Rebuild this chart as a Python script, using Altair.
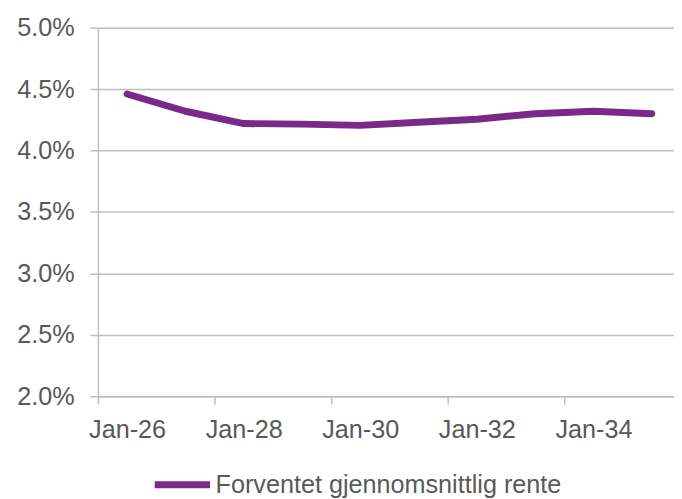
import json
import altair as alt
import pandas as pd

# ---- data ----
categories = ["Jan-26", "Jan-27", "Jan-28", "Jan-29", "Jan-30",
              "Jan-31", "Jan-32", "Jan-33", "Jan-34", "Jan-35"]
rates = [0.0446, 0.0432, 0.0422, 0.04215, 0.04205,
         0.0423, 0.04255, 0.0430, 0.0432, 0.0430]
series_name = "Forventet gjennomsnittlig rente"
tick_labels = ["Jan-26", "Jan-28", "Jan-30", "Jan-32", "Jan-34"]
y_ticks = [0.02, 0.025, 0.03, 0.035, 0.04, 0.045, 0.05]

df = pd.DataFrame({
    "idx": list(range(len(categories))),
    "label": categories,
    "rate": rates,
    "series": [series_name] * len(categories),
})

TEXT = "#595959"
GRID = "#BFBFBF"
PURPLE = "#7A288A"
FONT = "Liberation Sans"
FS = 25.5

x_tick_values = [2 * i - 0.5 for i in range(len(tick_labels))]
label_expr = json.dumps(tick_labels) + "[round((datum.value + 0.5) / 2)]"

chart = (
    alt.Chart(df)
    .mark_line(strokeWidth=7, strokeCap="round", strokeJoin="round")
    .encode(
        x=alt.X(
            "idx:Q",
            scale=alt.Scale(domain=[-0.5, -0.5 + 583 / 59], nice=False, zero=False),
            axis=alt.Axis(
                values=x_tick_values,
                labelExpr=label_expr,
                labelOffset=29.5,
                title=None,
                grid=False,
                domainColor=GRID,
                domainWidth=1.5,
                tickColor=GRID,
                tickWidth=1.5,
                tickSize=8,
                labelPadding=14,
                labelFont=FONT,
                labelFontSize=FS,
                labelColor=TEXT,
                labelOverlap=False,
                labelFlush=False,
                labelBound=False,
            ),
        ),
        y=alt.Y(
            "rate:Q",
            scale=alt.Scale(domain=[0.02, 0.05], nice=False, zero=False),
            axis=alt.Axis(
                values=y_ticks,
                format=".1%",
                title=None,
                grid=True,
                gridColor=GRID,
                gridWidth=1.5,
                domainColor=GRID,
                domainWidth=1.5,
                tickColor=GRID,
                tickWidth=1.5,
                tickSize=8,
                labelPadding=16,
                labelFont=FONT,
                labelFontSize=FS,
                labelColor=TEXT,
            ),
        ),
        color=alt.Color(
            "series:N",
            scale=alt.Scale(domain=[series_name], range=[PURPLE]),
            legend=alt.Legend(
                title=None,
                orient="none",
                legendX=54,
                legendY=431,
                symbolType="stroke",
                symbolSize=3136,
                symbolStrokeWidth=7,
                labelFont=FONT,
                labelFontSize=FS,
                labelColor=TEXT,
                labelOffset=2,
                labelLimit=0,
                padding=0,
            ),
        ),
    )
    .properties(
        width=583,
        height=373,
        autosize=alt.AutoSizeParams(type="none"),
        padding={"left": 91, "top": 17, "right": 0, "bottom": 101},
    )
    .configure_view(stroke=None)
    .configure(background="white")
)

chart.save("out.html", embed_options={"renderer": "svg", "actions": False})
